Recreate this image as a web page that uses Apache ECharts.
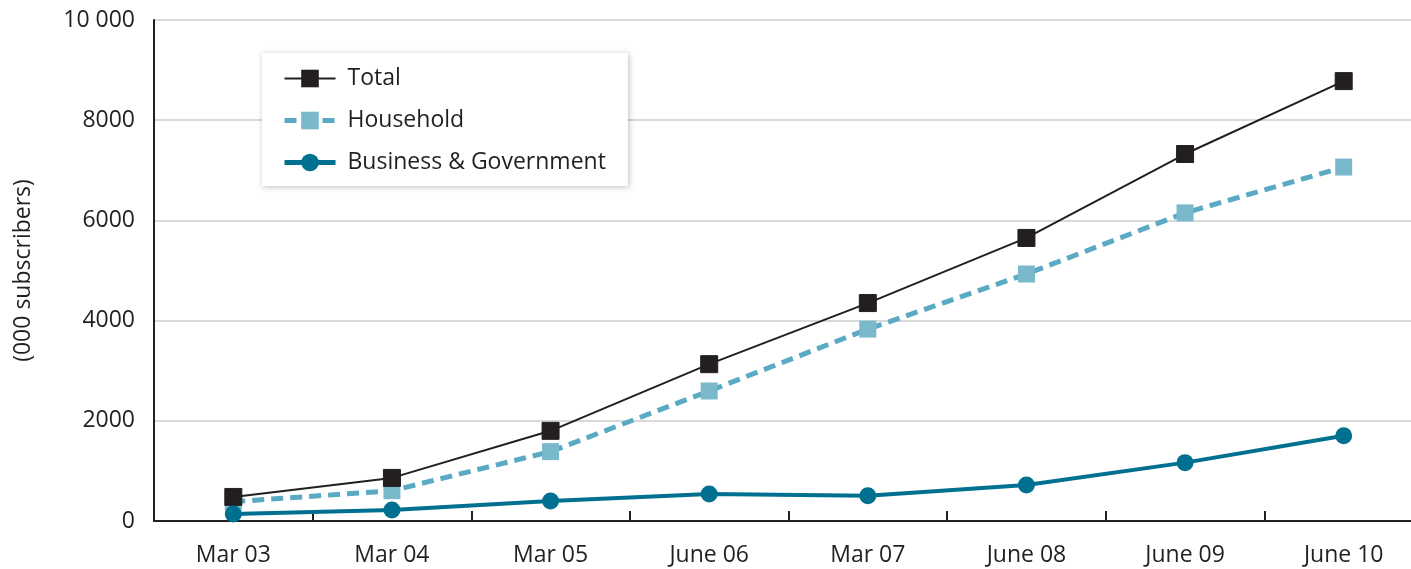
<!DOCTYPE html>
<html>
<head>
<meta charset="utf-8">
<script src="https://cdn.jsdelivr.net/npm/echarts@6/dist/echarts.min.js"></script>
<style>
  html, body { margin: 0; padding: 0; background: #fff; overflow: hidden; }
  /* canvas runs a little past the window so the last category is clipped on the right */
  #chart { width: 1423px; height: 569px; }
</style>
</head>
<body>
<div id="chart"></div>
<script>
// Subscriber counts, thousands
const categories = ['Mar 03', 'Mar 04', 'Mar 05', 'June 06', 'Mar 07', 'June 08', 'June 09', 'June 10'];
const total = [480, 860, 1800, 3130, 4350, 5650, 7325, 8780];
const household = [385, 605, 1385, 2595, 3830, 4930, 6150, 7065];
const business = [140, 220, 400, 540, 505, 720, 1165, 1700];
const yTicks = [0, 2000, 4000, 6000, 8000, 10000];

const FONT = '"Open Sans", "Noto Sans", sans-serif';
const TEXT = '#231f20';

const chart = echarts.init(document.getElementById('chart'), null, { renderer: 'canvas' });

chart.setOption({
  animation: false,
  backgroundColor: '#ffffff',
  grid: { left: 154, top: 20, right: 0, bottom: 48, containLabel: false },
  legend: {
    orient: 'vertical',
    left: 262,
    top: 53,
    padding: [14, 22, 12, 20],
    itemGap: 19,
    itemWidth: 51,
    itemHeight: 22,
    backgroundColor: '#ffffff',
    shadowBlur: 6,
    shadowColor: 'rgba(0,0,0,0.25)',
    shadowOffsetX: 1,
    shadowOffsetY: 1,
    textStyle: { fontFamily: FONT, fontSize: 23, color: TEXT, padding: [0, 0, 0, 7] },
    data: [
      { name: 'Total', lineStyle: { width: 2 } },
      { name: 'Household', lineStyle: { width: 5 } },
      { name: 'Business & Government', lineStyle: { width: 5 } }
    ]
  },
  xAxis: {
    type: 'category',
    data: categories,
    boundaryGap: true,
    axisLine: { lineStyle: { color: TEXT, width: 2 } },
    axisTick: { show: true, inside: true, length: 10, lineStyle: { color: TEXT, width: 2 } },
    axisLabel: { margin: 23, fontFamily: FONT, fontSize: 23, color: TEXT },
    splitLine: { show: false }
  },
  yAxis: {
    type: 'value',
    min: yTicks[0],
    max: yTicks[yTicks.length - 1],
    interval: 2000,
    name: '(000 subscribers)',
    nameLocation: 'middle',
    nameRotate: 90,
    nameGap: 119,
    nameTextStyle: { fontFamily: FONT, fontSize: 23, color: TEXT },
    axisLine: { show: true, lineStyle: { color: TEXT, width: 2 } },
    axisTick: { show: false },
    axisLabel: {
      margin: 19,
      fontFamily: FONT,
      fontSize: 23,
      color: TEXT,
      formatter: v => (v >= 10000 ? '10 000' : String(v))
    },
    splitLine: { show: true, lineStyle: { color: '#d9d9d9', width: 2 } }
  },
  series: [
    {
      name: 'Total',
      type: 'line',
      data: total,
      z: 4,
      symbol: 'rect',
      symbolSize: 17,
      itemStyle: { color: '#231f20', borderColor: '#231f20' },
      lineStyle: { color: '#231f20', width: 2 }
    },
    {
      name: 'Household',
      type: 'line',
      data: household,
      z: 3,
      symbol: 'rect',
      symbolSize: 17,
      itemStyle: { color: '#7ab8cc' },
      lineStyle: { color: '#5aaac4', width: 5, type: [12, 7] }
    },
    {
      name: 'Business & Government',
      type: 'line',
      data: business,
      z: 5,
      symbol: 'circle',
      symbolSize: 17,
      itemStyle: { color: '#007090' },
      lineStyle: { color: '#007090', width: 4 }
    }
  ]
});
</script>
</body>
</html>
